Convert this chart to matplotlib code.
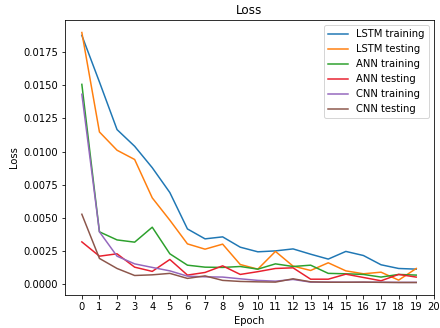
import matplotlib
matplotlib.use("Agg")
import matplotlib.pyplot as plt

epochs = list(range(20))
xtick_labels = list(range(21))

lstm_train = [0.01878, 0.01526, 0.01166, 0.0104, 0.00878, 0.0069, 0.00415, 0.0034, 0.00355, 0.00277,
              0.00242, 0.00249, 0.00264, 0.00224, 0.00187, 0.00245, 0.00214, 0.00144, 0.00116, 0.00111]
lstm_test = [0.0190, 0.01148, 0.0101, 0.0094, 0.0065, 0.00481, 0.00302, 0.00262, 0.0030, 0.00146,
             0.00111, 0.00245, 0.00134, 0.00101, 0.00159, 0.00098, 0.00076, 0.00088, 0.00028, 0.00116]
ann_train = [0.01508, 0.00393, 0.00332, 0.00315, 0.00428, 0.00227, 0.00141, 0.00126, 0.00124, 0.00131,
             0.00111, 0.00151, 0.00131, 0.00141, 0.00079, 0.00076, 0.00071, 0.00051, 0.00071, 0.00066]
ann_test = [0.00317, 0.00209, 0.00227, 0.00126, 0.00094, 0.00184, 0.00066, 0.00086, 0.00136, 0.00071,
            0.00092, 0.00116, 0.00121, 0.00035, 0.00035, 0.00073, 0.00048, 0.00023, 0.00071, 0.00051]
cnn_train = [0.01433, 0.00393, 0.00209, 0.00151, 0.00124, 0.00098, 0.00058, 0.00053, 0.00051, 0.00038,
             0.00026, 0.0002, 0.00033, 0.00013, 0.00013, 0.00012, 0.00012, 0.00012, 0.00011, 0.00011]
cnn_test = [0.00526, 0.00192, 0.00116, 0.00063, 0.00068, 0.00079, 0.00041, 0.0006, 0.00026, 0.00018,
            0.00015, 0.00013, 0.00038, 0.00015, 0.00012, 0.00012, 0.00013, 0.00011, 0.0001, 0.0001]

series = [
    ("LSTM training", lstm_train, "#1f77b4"),
    ("LSTM testing", lstm_test, "#ff7f0e"),
    ("ANN training", ann_train, "#2ca02c"),
    ("ANN testing", ann_test, "#e8202e"),
    ("CNN training", cnn_train, "#9467bd"),
    ("CNN testing", cnn_test, "#8c564b"),
]

fig = plt.figure(figsize=(440 / 72, 328 / 72), dpi=72)
ax = fig.add_subplot(111)
fig.subplots_adjust(left=0.148, right=0.986, top=0.939, bottom=0.1006)
for label, vals, color in series:
    ax.plot(epochs, vals, label=label, color=color, linewidth=1.5)
ax.set_xticks(xtick_labels)
ax.set_title("Loss")
ax.set_xlabel("Epoch")
ax.set_ylabel("Loss")
ax.legend(loc="upper right")
fig.savefig("out.png", dpi=72)
